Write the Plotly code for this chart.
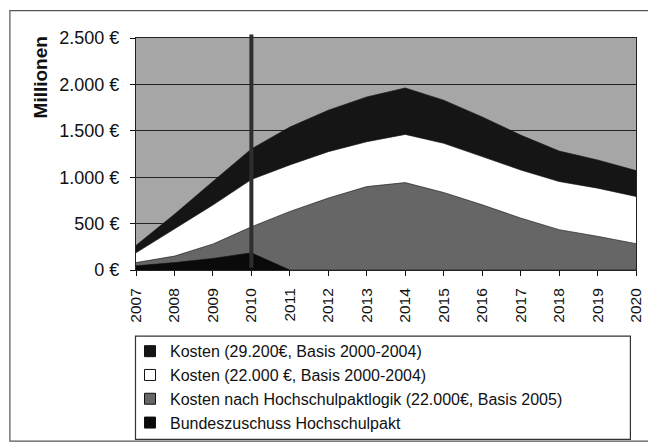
import plotly.graph_objects as go

years = list(range(2007, 2021))
kosten_29200 = [265, 600, 955, 1305, 1540, 1722, 1865, 1962, 1830, 1650, 1454, 1282, 1186, 1071]
kosten_22000 = [185, 440, 700, 975, 1132, 1275, 1382, 1461, 1365, 1222, 1078, 953, 882, 792]
kosten_hsp_logik = [80, 150, 280, 465, 631, 775, 899, 942, 835, 703, 560, 435, 363, 284]
bundeszuschuss = [45, 80, 125, 185, 0, 0, 0, 0, 0, 0, 0, 0, 0, 0]

series_names = [
    "Kosten (29.200€, Basis 2000-2004)",
    "Kosten (22.000 €, Basis 2000-2004)",
    "Kosten nach Hochschulpaktlogik (22.000€, Basis 2005)",
    "Bundeszuschuss Hochschulpakt",
]
series_values = [kosten_29200, kosten_22000, kosten_hsp_logik, bundeszuschuss]
fill_colors = ["#151515", "#ffffff", "#666666", "#0a0a0a"]

y_tick_vals = [0, 500, 1000, 1500, 2000, 2500]
y_tick_text = ["0 €", "500 €", "1.000 €", "1.500 €", "2.000 €", "2.500 €"]
x_tick_text = [str(y) for y in years]
marker_year = 2010

FONT = "Liberation Sans, Arial, sans-serif"

fig = go.Figure()
for name, vals, col in zip(series_names, series_values, fill_colors):
    fig.add_trace(go.Scatter(
        x=years, y=vals, mode="lines", fill="tozeroy",
        fillcolor=col, line=dict(color="#111111", width=0.6),
        name=name, showlegend=False, hoverinfo="skip"))

for name, col in zip(series_names, fill_colors):
    fig.add_trace(go.Scatter(
        x=[None], y=[None], mode="markers", name=name,
        marker=dict(symbol="square", size=11, color=col,
                    line=dict(color="#111111", width=1))))

fig.add_shape(type="line", xref="x", yref="paper", x0=marker_year, x1=marker_year,
              y0=0.01, y1=1.015, line=dict(color="#2e2e2e", width=4), layer="above")

# outer frame
fig.add_shape(type="rect", xref="paper", yref="paper", x0=-0.2522, x1=1.0288,
              y0=-0.738, y1=1.118, line=dict(color="#555555", width=1.2), layer="below")
# legend frame
fig.add_shape(type="rect", xref="paper", yref="paper", x0=-0.001, x1=0.9888,
              y0=-0.73, y1=-0.2854, line=dict(color="#333333", width=1.2), layer="below")

fig.add_annotation(text="<b>Millionen</b>", xref="paper", yref="paper",
                   x=-0.192, y=0.83, xanchor="center", yanchor="middle",
                   textangle=-90, showarrow=False,
                   font=dict(family=FONT, size=19, color="#111111"))

fig.update_layout(
    width=648, height=435,
    margin=dict(l=128, r=20.4, t=29.5, b=172.5, autoexpand=False),
    paper_bgcolor="white", plot_bgcolor="#a6a6a6",
    font=dict(family=FONT, color="#111111"),
    showlegend=True,
    legend=dict(x=-0.012, y=-0.277, xanchor="left", yanchor="top",
                font=dict(family=FONT, size=16, color="#111111"),
                bgcolor="rgba(0,0,0,0)", borderwidth=0, tracegroupgap=0),
    xaxis=dict(range=[2007, 2020], tickvals=years, ticktext=x_tick_text,
               tickangle=-90, ticks="outside", ticklen=5, tickcolor="#111111",
               tickfont=dict(family=FONT, size=15.5, color="#111111"),
               showgrid=False, showline=True, linecolor="#222222", linewidth=1,
               mirror=True, zeroline=False, ticklabelstandoff=6, automargin=False),
    yaxis=dict(range=[0, 2500], tickvals=y_tick_vals, ticktext=y_tick_text,
               ticks="outside", ticklen=5, tickcolor="#111111",
               tickfont=dict(family=FONT, size=18, color="#111111"),
               showgrid=True, gridcolor="#222222", gridwidth=1,
               showline=True, linecolor="#222222", linewidth=1, mirror=True,
               zeroline=False, ticklabelstandoff=7, automargin=False),
)

fig.write_html("out.html")
